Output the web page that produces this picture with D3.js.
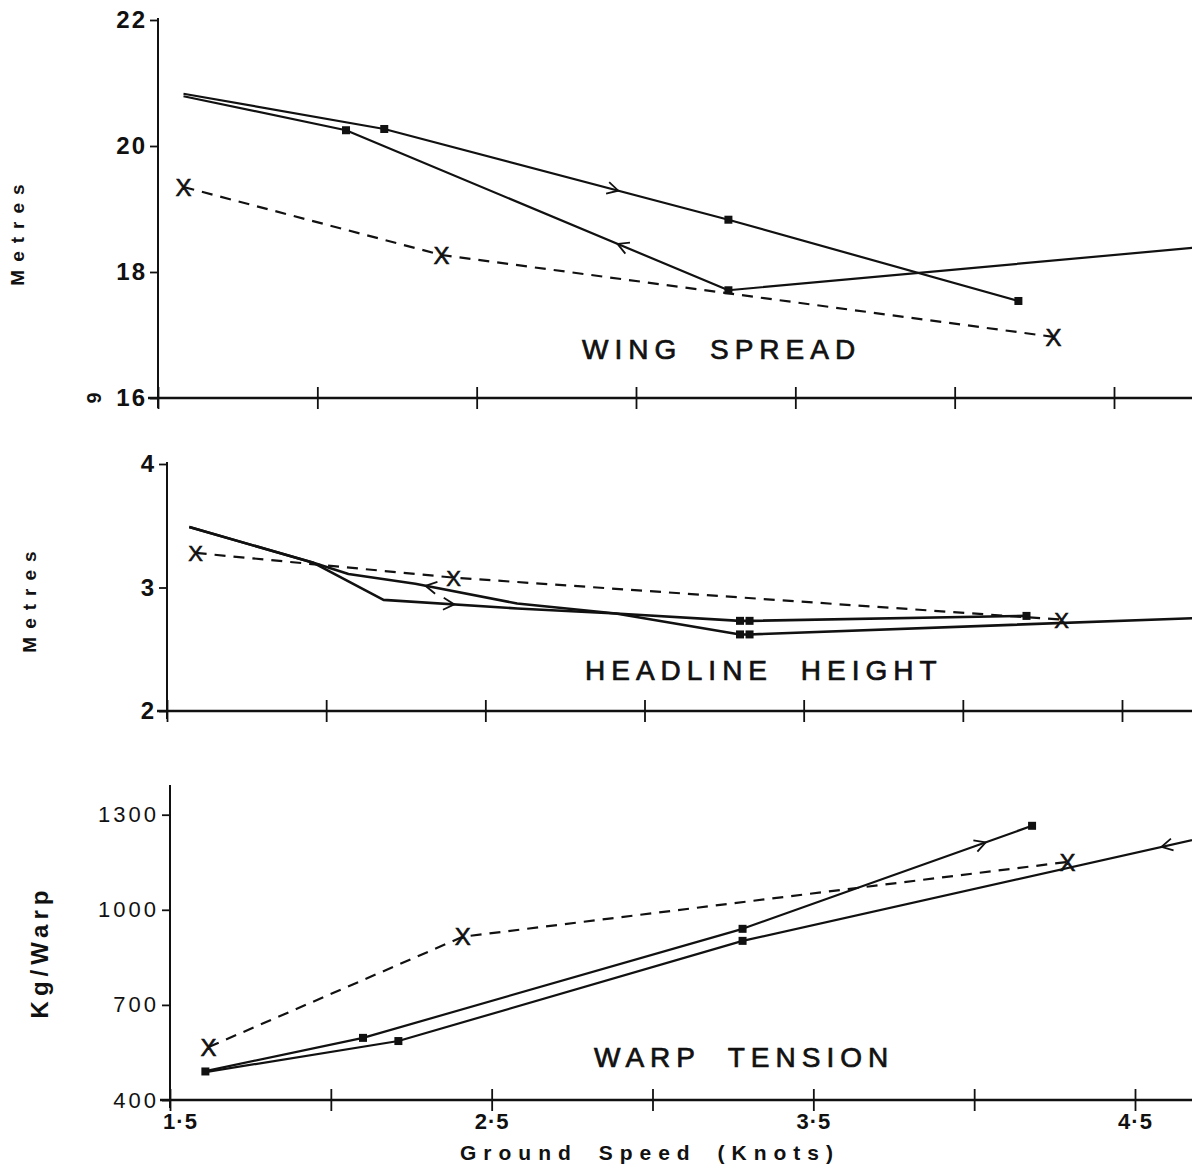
<!DOCTYPE html>
<html>
<head>
<meta charset="utf-8">
<script src="https://cdn.jsdelivr.net/npm/d3@7"></script>
<style>
  body { margin: 0; background: #fff; }
  text { font-family: "Liberation Sans", Arial, sans-serif; fill: #111; }
</style>
</head>
<body>
<svg id="chart" width="1192" height="1169"></svg>
<script>
// =========================================
// DATA (ground speed in knots)
// =========================================
const speedTicks = [1.5, 2, 2.5, 3, 3.5, 4, 4.5];
const speedLabels = ["1·5", "", "2·5", "", "3·5", "", "4·5"];

// Wing spread (m)
const wingTicks = [16, 18, 20, 22];
const wingOut  = [[1.58, 20.83], [2.21, 20.27], [3.29, 18.83], [4.20, 17.54]];
const wingBack = [[4.76, 18.39], [3.29, 17.71], [2.09, 20.25], [1.58, 20.79]];
const wingSq   = [[2.09, 20.25], [2.21, 20.27], [3.29, 18.83], [3.29, 17.71], [4.20, 17.54]];
const wingX    = [[1.58, 19.35], [2.39, 18.27], [4.31, 16.97]];

// Headline height (m)
const headTicks = [2, 3, 4];
const headOut  = [[1.57, 3.49], [1.96, 3.20], [2.18, 2.90], [2.60, 2.83], [2.91, 2.79],
                  [3.30, 2.73], [3.33, 2.73], [4.20, 2.77]];
const headBack = [[4.76, 2.755], [3.33, 2.62], [3.30, 2.62], [2.91, 2.79], [2.60, 2.87],
                  [2.28, 3.03], [2.07, 3.11], [1.96, 3.20], [1.57, 3.49]];
const headSq   = [[3.30, 2.73], [3.33, 2.73], [3.30, 2.62], [3.33, 2.62], [4.20, 2.77]];
const headX    = [[1.59, 3.28], [2.40, 3.08], [4.31, 2.74]];

// Warp tension (kg per warp)
const warpTicks = [400, 700, 1000, 1300];
const warpOut  = [[1.61, 491], [2.10, 596], [3.28, 940], [4.18, 1265]];
const warpBack = [[4.76, 1239], [3.28, 902], [2.21, 586], [1.61, 488]];
const warpSq   = [[1.61, 490], [2.10, 596], [2.21, 586], [3.28, 940], [3.28, 902], [4.18, 1265]];
const warpX    = [[1.62, 567], [2.41, 915], [4.29, 1151]];

// arrows: [line, segment index, fraction along segment]
const wingArrows = [[wingOut, 1, 0.68], [wingBack, 1, 0.29]];
const headArrows = [[headOut, 2, 0.53], [headBack, 4, 0.9]];
const warpArrows = [[warpOut, 2, 0.84], [warpBack, 0, 0.12]];

const svg = d3.select("#chart");

// =========================================
// ONE PANEL
// =========================================
function drawPanel(p) {
    const x = d3.scaleLinear().domain([1.5, 4.5]).range(p.xRange);
    const y = d3.scaleLinear().domain(p.yDomain).range(p.yRange);
    const g = svg.append("g");
    const base = y(p.yDomain[0]);

    // x axis: line to the page edge, cross ticks
    g.append("line")
        .attr("x1", x(1.5) - 10).attr("x2", 1192)
        .attr("y1", base).attr("y2", base)
        .attr("stroke", "#111").attr("stroke-width", 2.6);

    const xa = g.append("g")
        .attr("transform", `translate(0,${base})`)
        .call(d3.axisBottom(x).tickValues(speedTicks).tickSize(10).tickPadding(3)
            .tickFormat((d, i) => p.xLabels ? speedLabels[i] : ""));
    xa.select(".domain").remove();
    xa.selectAll(".tick line").attr("y1", -11).attr("y2", 11)
        .attr("stroke", "#111").attr("stroke-width", 1.8);
    xa.selectAll(".tick text")
        .attr("dx", (d, i) => i === 0 ? 10 : 0)
        .style("font-family", "'Liberation Sans', Arial, sans-serif")
        .style("font-size", "22px").style("font-weight", "bold")
        .style("letter-spacing", "1px").attr("fill", "#111");

    // y axis
    g.append("line")
        .attr("x1", x(1.5)).attr("x2", x(1.5))
        .attr("y1", p.yTop).attr("y2", base + p.yBelow)
        .attr("stroke", "#111").attr("stroke-width", 2);

    const ya = g.append("g")
        .attr("transform", `translate(${x(1.5)},0)`)
        .call(d3.axisLeft(y).tickValues(p.yTicks).tickSize(8).tickPadding(3)
            .tickFormat(d3.format("d")));
    ya.select(".domain").remove();
    ya.selectAll(".tick line").attr("stroke", "#111").attr("stroke-width", 1.8);
    ya.selectAll(".tick text")
        .style("font-family", "'Liberation Sans', Arial, sans-serif")
        .style("font-size", p.tickSize).style("font-weight", p.tickWeight)
        .style("letter-spacing", p.tickSpacing).attr("fill", "#111");

    // y title
    g.append("text")
        .attr("transform", `translate(${p.titleX},${p.titleY}) rotate(-90)`)
        .attr("text-anchor", "middle")
        .style("font-size", p.titleSize).style("font-weight", "bold")
        .style("letter-spacing", p.titleSpacing)
        .text(p.yTitle);

    // lines
    const line = d3.line().x(d => x(d[0])).y(d => y(d[1]));

    g.selectAll(".solid")
        .data(p.solid)
        .join("path")
        .attr("fill", "none")
        .attr("stroke", "#111")
        .attr("stroke-width", p.lineWidth)
        .attr("stroke-linejoin", "round")
        .attr("d", d => line(d));

    g.append("path")
        .attr("fill", "none")
        .attr("stroke", "#111")
        .attr("stroke-width", 2.2)
        .attr("stroke-dasharray", "11 8")
        .attr("d", line(p.dashed));

    // square markers
    g.selectAll(".sq")
        .data(p.squares)
        .join("rect")
        .attr("x", d => x(d[0]) - 4)
        .attr("y", d => y(d[1]) - 4)
        .attr("width", 8).attr("height", 8)
        .attr("fill", "#111");

    // X markers
    g.selectAll(".xm")
        .data(p.dashed)
        .join("text")
        .attr("x", d => x(d[0]))
        .attr("y", d => y(d[1]))
        .attr("dy", "0.36em")
        .attr("text-anchor", "middle")
        .style("font-size", p.xSize)
        .attr("stroke", "#111").attr("stroke-width", 0.6)
        .text("X");

    // direction arrows (open chevrons)
    g.selectAll(".arrow")
        .data(p.arrows)
        .join("path")
        .attr("fill", "none")
        .attr("stroke", "#111")
        .attr("stroke-width", 1.8)
        .attr("d", "M-11,-6L0,0L-11,6")
        .attr("transform", ([pts, i, t]) => {
            const x0 = x(pts[i][0]), y0 = y(pts[i][1]);
            const x1 = x(pts[i + 1][0]), y1 = y(pts[i + 1][1]);
            const a = Math.atan2(y1 - y0, x1 - x0) * 180 / Math.PI;
            return `translate(${x0 + (x1 - x0) * t},${y0 + (y1 - y0) * t}) rotate(${a})`;
        });

    // panel name
    g.append("text")
        .attr("x", p.nameX).attr("y", p.nameY)
        .style("font-size", "28px")
        .style("letter-spacing", "6px")
        .style("word-spacing", "14px")
        .attr("stroke", "#111").attr("stroke-width", 0.7)
        .text(p.name);
}

drawPanel({
    name: "WING SPREAD", nameX: 582, nameY: 359,
    xRange: [158, 1114], yDomain: [16, 22], yRange: [398, 20],
    yTicks: wingTicks, yTop: 18, yBelow: 10,
    tickSize: "24px", tickWeight: "bold", tickSpacing: "2px",
    yTitle: "Metres", titleX: 24, titleY: 231, titleSize: "19px", titleSpacing: "8px",
    solid: [wingOut, wingBack], dashed: wingX, squares: wingSq, arrows: wingArrows,
    lineWidth: 2.2, xSize: "24px", xLabels: false
});

drawPanel({
    name: "HEADLINE HEIGHT", nameX: 585, nameY: 680,
    xRange: [167, 1122], yDomain: [2, 4], yRange: [711, 464],
    yTicks: headTicks, yTop: 462, yBelow: 8,
    tickSize: "24px", tickWeight: "bold", tickSpacing: "2px",
    yTitle: "Metres", titleX: 36, titleY: 598, titleSize: "19px", titleSpacing: "8px",
    solid: [headOut, headBack], dashed: headX, squares: headSq, arrows: headArrows,
    lineWidth: 2.6, xSize: "22px", xLabels: false
});

drawPanel({
    name: "WARP TENSION", nameX: 594, nameY: 1067,
    xRange: [170, 1135], yDomain: [400, 1400], yRange: [1100, 783],
    yTicks: warpTicks, yTop: 785, yBelow: 8,
    tickSize: "22px", tickWeight: "normal", tickSpacing: "3px",
    yTitle: "Kg/Warp", titleX: 48, titleY: 952, titleSize: "24px", titleSpacing: "5px",
    solid: [warpOut, warpBack], dashed: warpX, squares: warpSq, arrows: warpArrows,
    lineWidth: 2.2, xSize: "24px", xLabels: true
});

// x axis title
svg.append("text")
    .attr("x", 650).attr("y", 1160)
    .attr("text-anchor", "middle")
    .style("font-size", "21px").style("font-weight", "bold")
    .style("letter-spacing", "7px").style("word-spacing", "8px")
    .text("Ground Speed (Knots)");

// stray page mark beside the lowest wing-spread tick
svg.append("text")
    .attr("transform", "translate(94,398) rotate(-90)")
    .attr("text-anchor", "middle")
    .attr("dy", "0.36em")
    .style("font-size", "20px").style("font-weight", "bold")
    .text("9");
</script>
</body>
</html>
